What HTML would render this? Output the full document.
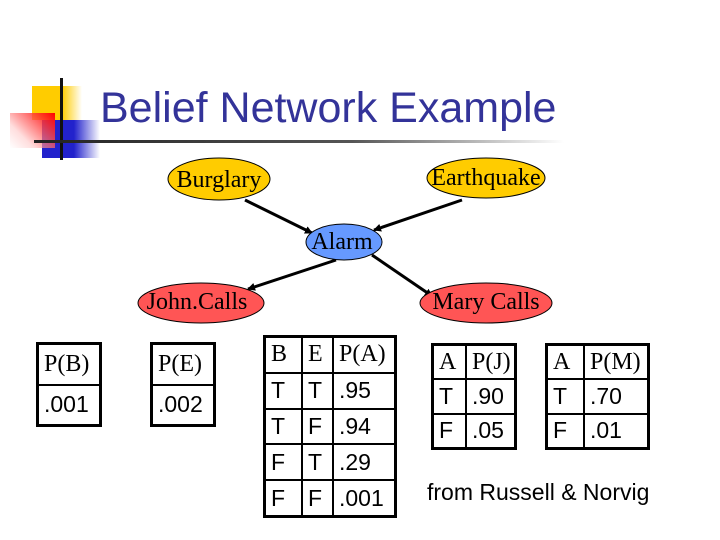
<!DOCTYPE html>
<html><head><style>
body{margin:0;width:720px;height:540px;background:#fff;position:relative;overflow:hidden;font-family:"Liberation Serif",serif}
.a{position:absolute}
table{position:absolute;border-collapse:collapse;border:3px solid #000}
td{border:2px solid #000;padding:0 0 0 5px;font-size:24px;vertical-align:middle;text-align:left;white-space:nowrap}
.s{font-family:"Liberation Sans",sans-serif;font-size:23px}
</style></head><body>
<div class="a" style="left:32px;top:86px;width:50px;height:34px;background:linear-gradient(90deg,#fc0 60%,#fff)"></div>
<div class="a" style="left:42px;top:120px;width:58px;height:38px;background:linear-gradient(90deg,#22c 55%,#fff)"></div>
<div class="a" style="left:10px;top:113px;width:45px;height:35px;background:linear-gradient(225deg,#f00,rgba(255,200,200,.6) 70%,#fff)"></div>
<div class="a" style="left:60px;top:78px;width:3px;height:82px;background:#111"></div>
<div class="a" style="left:34px;top:140px;width:530px;height:3px;background:linear-gradient(90deg,#222,#555 60%,#fff)"></div>
<div class="a" style="left:100px;top:84px;font-family:'Liberation Sans',sans-serif;font-size:43px;color:#333399">Belief Network Example</div>
<svg class="a" style="left:0;top:0" width="720" height="540">
<defs><marker id="m" markerWidth="8" markerHeight="8" refX="7" refY="4" orient="auto" markerUnits="userSpaceOnUse" viewBox="0 0 8 8"><path d="M0,0L8,4L0,8z" fill="#000"/></marker></defs>
<g stroke="#000" stroke-width="3" marker-end="url(#m)">
<line x1="245" y1="200" x2="312" y2="233"/>
<line x1="462" y1="200" x2="374" y2="230"/>
<line x1="336" y1="260" x2="248" y2="289"/>
<line x1="372" y1="255" x2="432" y2="296"/>
</g>
<g stroke="#000" stroke-width="1">
<ellipse cx="219" cy="179" rx="51" ry="21" fill="#fc0"/>
<ellipse cx="486" cy="178" rx="59" ry="20" fill="#fc0"/>
<ellipse cx="344" cy="242" rx="38" ry="18" fill="#69f"/>
<ellipse cx="201" cy="303" rx="63" ry="20" fill="#f55"/>
<ellipse cx="486" cy="303" rx="66" ry="20" fill="#f55"/>
</g>
<g font-family="Liberation Serif,serif" font-size="24" text-anchor="middle">
<text x="219" y="187">Burglary</text>
<text x="486" y="185">Earthquake</text>
<text x="342" y="249">Alarm</text>
<text x="197" y="309">John.Calls</text>
<text x="486" y="309">Mary Calls</text>
</g>
</svg>
<table style="left:36px;top:342px;width:66px;height:85px"><tr><td>P(B)</td></tr><tr><td class="s">.001</td></tr></table>
<table style="left:150px;top:342px;width:66px;height:85px"><tr><td>P(E)</td></tr><tr><td class="s">.002</td></tr></table>
<table style="left:263px;top:335px;width:134px;height:183px">
<tr><td style="width:30px">B</td><td style="width:24px">E</td><td>P(A)</td></tr>
<tr><td class="s">T</td><td class="s">T</td><td class="s">.95</td></tr>
<tr><td class="s">T</td><td class="s">F</td><td class="s">.94</td></tr>
<tr><td class="s">F</td><td class="s">T</td><td class="s">.29</td></tr>
<tr><td class="s">F</td><td class="s">F</td><td class="s">.001</td></tr></table>
<table style="left:431px;top:343px;width:86px;height:107px">
<tr><td style="width:26px">A</td><td>P(J)</td></tr>
<tr><td class="s">T</td><td class="s">.90</td></tr>
<tr><td class="s">F</td><td class="s">.05</td></tr></table>
<table style="left:545px;top:343px;width:105px;height:107px">
<tr><td style="width:30px">A</td><td>P(M)</td></tr>
<tr><td class="s">T</td><td class="s">.70</td></tr>
<tr><td class="s">F</td><td class="s">.01</td></tr></table>
<div class="a s" style="left:427px;top:479px;font-size:23px">from Russell &amp; Norvig</div>
</body></html>
